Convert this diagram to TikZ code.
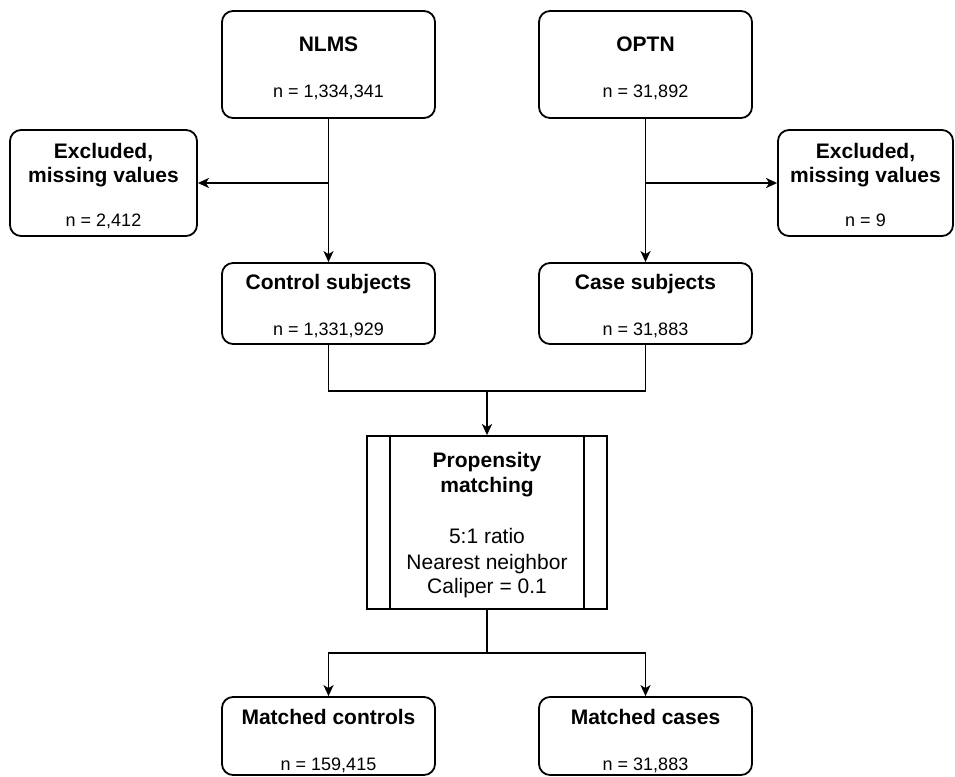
\documentclass[tikz,border=0pt]{standalone}
\usepackage{fontspec}
\setmainfont{Liberation Sans}
\usetikzlibrary{arrows.meta,calc}
\begin{document}
\begin{tikzpicture}[x=1pt,y=-1pt,
  box/.style={draw, line width=1.8pt, rounded corners=11pt, inner sep=0pt},
  pbox/.style={draw, line width=1.8pt, inner sep=0pt},
  ttl/.style={font=\fontsize{21}{24}\selectfont\bfseries, inner sep=0pt, anchor=base},
  num/.style={font=\fontsize{18}{21}\selectfont, inner sep=0pt, anchor=base},
  body/.style={font=\fontsize{21}{25}\selectfont, inner sep=0pt, anchor=base},
  con/.style={line width=1.8pt},
  arr/.style={con, -{Stealth[length=11pt,width=10pt,inset=3pt]}}]
\useasboundingbox[fill=white] (0,0) rectangle (955,776);

% boxes
\node[box, minimum width=213pt, minimum height=107pt] (nlms) at (328.5,64.5) {};
\node[box, minimum width=213pt, minimum height=107pt] (optn) at (645.5,64.5) {};
\node[box, minimum width=187pt, minimum height=106pt] (exL) at (103.5,183) {};
\node[box, minimum width=175pt, minimum height=106pt] (exR) at (865.5,183) {};
\node[box, minimum width=213pt, minimum height=81pt] (ctrl) at (328.5,303.5) {};
\node[box, minimum width=213pt, minimum height=81pt] (case) at (645.5,303.5) {};
\node[pbox, minimum width=240pt, minimum height=173pt] (prop) at (487,522.5) {};
\node[box, minimum width=213pt, minimum height=78pt] (mctrl) at (328.5,736) {};
\node[box, minimum width=213pt, minimum height=78pt] (mcase) at (645.5,736) {};

% inner lines of process box
\draw[con] ([xshift=24pt]prop.north west) -- ([xshift=24pt]prop.south west);
\draw[con] ([xshift=-24pt]prop.north east) -- ([xshift=-24pt]prop.south east);

% texts
\node[ttl] (nlmsT) at (328.5,51.5) {NLMS};
\node[num] (nlmsN) at (328.5,97.5) {n = 1,334,341};
\node[ttl] (optnT) at (645.5,51.5) {OPTN};
\node[num] (optnN) at (645.5,97.5) {n = 31,892};

\node[ttl] (exLT1) at (103.5,158.5) {Excluded,};
\node[ttl] (exLT2) at (103.5,182.5) {missing values};
\node[num] (exLN) at (103.5,226.5) {n = 2,412};
\node[ttl] (exRT1) at (865.5,158.5) {Excluded,};
\node[ttl] (exRT2) at (865.5,182.5) {missing values};
\node[num] (exRN) at (865.5,226.5) {n = 9};

\node[ttl] (ctrlT) at (328.5,289.5) {Control subjects};
\node[num] (ctrlN) at (328.5,335.5) {n = 1,331,929};
\node[ttl] (caseT) at (645.5,289.5) {Case subjects};
\node[num] (caseN) at (645.5,335.5) {n = 31,883};

\node[ttl] (propT1) at (487,467.5) {Propensity};
\node[ttl] (propT2) at (487,492.5) {matching};
\node[body] (propB1) at (487,543.5) {5:1 ratio};
\node[body] (propB2) at (487,569.5) {Nearest neighbor};
\node[body] (propB3) at (487,593.5) {Caliper = 0.1};

\node[ttl] (mctrlT) at (328.5,724.5) {Matched controls};
\node[num] (mctrlN) at (328.5,770.5) {n = 159,415};
\node[ttl] (mcaseT) at (645.5,724.5) {Matched cases};
\node[num] (mcaseN) at (645.5,770.5) {n = 31,883};

% connectors
\coordinate (jL) at (328.5,183);
\coordinate (jR) at (645.5,183);
\draw[arr] (nlms.south) -- (ctrl.north);
\draw[arr] (optn.south) -- (case.north);
\draw[arr] (jL) -- (exL.east);
\draw[arr] (jR) -- (exR.west);

\coordinate (mj) at (487,391);
\draw[con] (ctrl.south) -- (ctrl.south |- mj) -- (case.south |- mj) -- (case.south);
\draw[arr] (mj) -- (prop.north);

\coordinate (bj) at (487,653);
\draw[con] (prop.south) -- (bj);
\draw[arr] (bj) -| (mctrl.north);
\draw[arr] (bj) -| (mcase.north);
\end{tikzpicture}
\end{document}
